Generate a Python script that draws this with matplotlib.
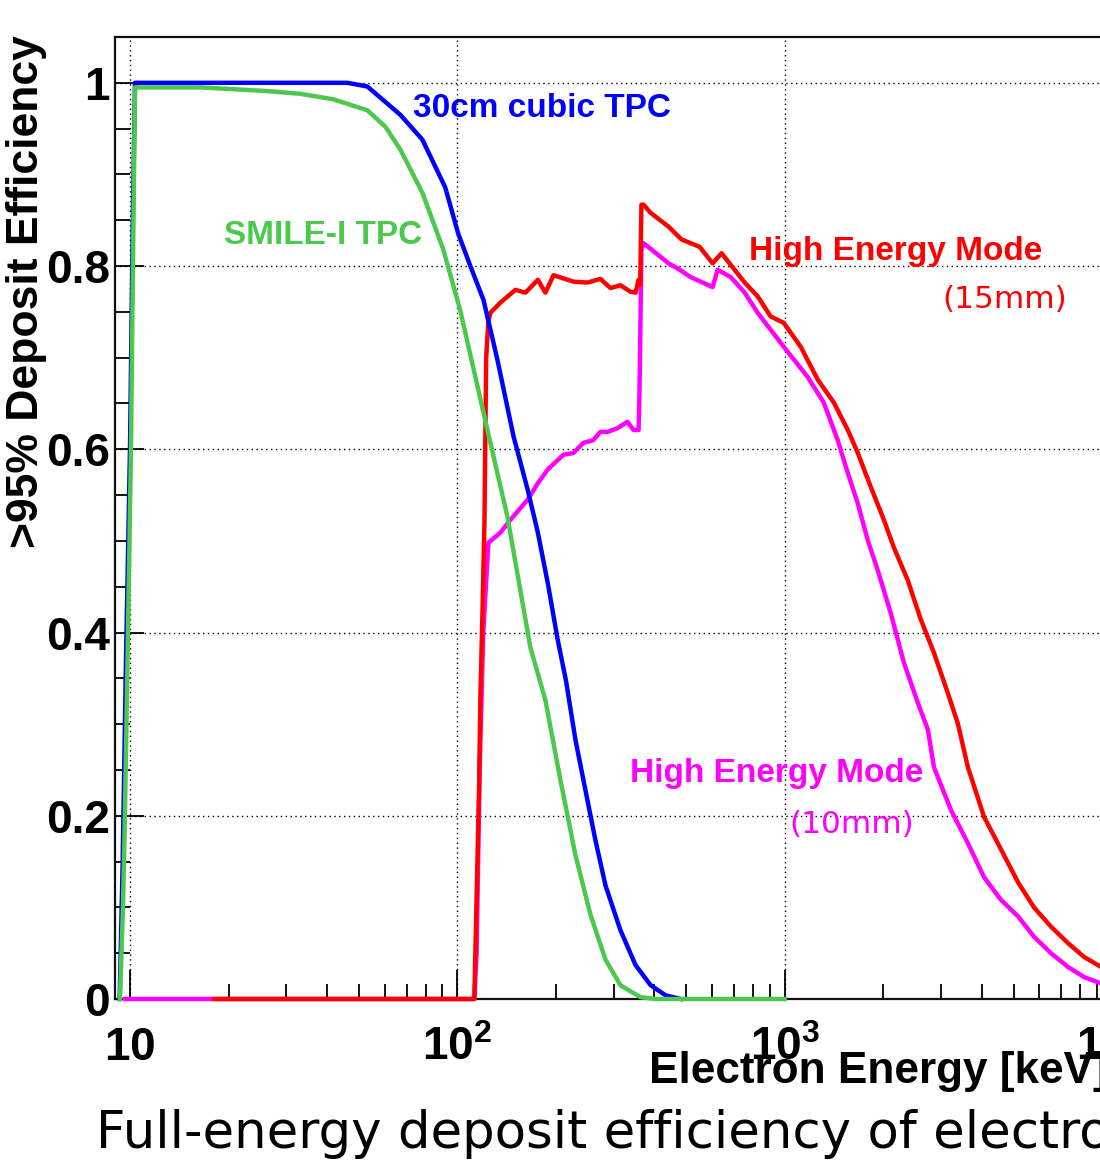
import matplotlib.pyplot as plt
from matplotlib.ticker import FixedLocator, MultipleLocator, NullFormatter

plt.rcParams['font.family'] = 'Liberation Sans'
plt.rcParams['mathtext.fontset'] = 'custom'
plt.rcParams['mathtext.rm'] = 'Liberation Sans:bold'
plt.rcParams['mathtext.it'] = 'Liberation Sans:bold'
plt.rcParams['mathtext.bf'] = 'Liberation Sans:bold'

# values: electron energy [keV] and >95% deposit efficiency
smile_e = [9.32, 9.52, 9.65, 9.86, 10.07, 10.21, 10.36, 16.4, 26.2, 33.1, 41.8, 53.1, 60.3,
           67.0, 78.2, 90.6, 102, 123.6, 142.3, 167.1, 185.8, 206.5, 229.5, 255.1, 283.5,
           315.0, 362.8, 403.3, 1000]
smile_eff = [0, 0.1, 0.2, 0.4, 0.6, 0.8, 0.995, 0.995, 0.991, 0.988, 0.982, 0.970, 0.952,
             0.927, 0.880, 0.818, 0.752, 0.621, 0.526, 0.384, 0.326, 0.239, 0.157, 0.092,
             0.043, 0.015, 0.002, 0, 0]

cubic_e = [9.3, 9.5, 9.7, 10.0, 10.2, 10.36, 46.1, 53.1, 67.0, 78.2, 91.8, 100.7, 109.6,
           120.2, 132.5, 148.5, 164.0, 176.2, 188.9, 202.6, 214.6, 229.5, 246.2, 263.9,
           283.5, 315.0, 350.3, 389.5, 432.8, 481.5]
cubic_eff = [0, 0.15, 0.35, 0.6, 0.85, 1.0, 1.0, 0.996, 0.965, 0.938, 0.886, 0.835, 0.800,
             0.763, 0.698, 0.614, 0.556, 0.509, 0.454, 0.392, 0.348, 0.283, 0.228, 0.174,
             0.124, 0.075, 0.037, 0.015, 0.004, 0]

he15_e = [18.1, 112.7, 113.5, 115.0, 116.5, 117.6, 119.3, 121.0, 122.5, 124.4, 126.2, 135.3,
          150.4, 161.5, 176.2, 185.8, 196.7, 226.3, 249.8, 273.6, 293.6, 315.0, 338.0, 350.3,
          357.8, 362.0, 365.0, 370.6, 389.5, 441.7, 484.1, 549.5, 602.3, 641.5, 754.6, 826.7,
          905.7, 993.0, 1119, 1262, 1413, 1559, 1672, 1832, 2009, 2154, 2377, 2606, 2857,
          3150, 3378, 3628, 4062, 4583, 5169, 5774, 6507, 7336, 8210, 9253, 10000]
he15_eff = [0, 0, 0.05, 0.14, 0.23, 0.33, 0.42, 0.52, 0.70, 0.74, 0.749, 0.760,
            0.774, 0.771, 0.785, 0.771, 0.790, 0.783, 0.782, 0.786, 0.776, 0.779, 0.772, 0.771,
            0.785, 0.78, 0.867, 0.867, 0.858, 0.843, 0.829, 0.821, 0.803, 0.814, 0.782, 0.767,
            0.745, 0.738, 0.712, 0.676, 0.651, 0.621, 0.596, 0.559, 0.523, 0.493, 0.457, 0.414,
            0.378, 0.334, 0.301, 0.253, 0.199, 0.163, 0.127, 0.100, 0.079, 0.061, 0.046, 0.035,
            0.028]

he10_e = [9.65, 112.7, 114.5, 117.0, 120.0, 124.4, 135.3, 145.3, 164.0, 176.2, 188.9, 210.8,
          226.3, 242.7, 260.2, 273.6, 287.5, 308.4, 330.9, 345.5, 357.8, 360.0, 362.0, 365.0,
          370.6, 441.7, 477.6, 515.8, 602.3, 623.9, 683.9, 754.6, 826.7, 993.0, 1175, 1316,
          1452, 1559, 1672, 1793, 1924, 2109, 2313, 2553, 2738, 2857, 3223, 3628, 4062, 4583,
          5169, 5774, 6507, 7336, 8210, 9253, 10000]
he10_eff = [0, 0, 0.05, 0.25, 0.40, 0.498, 0.509, 0.523, 0.545, 0.563, 0.578, 0.594,
            0.596, 0.607, 0.610, 0.619, 0.619, 0.623, 0.630, 0.621, 0.621, 0.66, 0.72, 0.818,
            0.825, 0.803, 0.796, 0.788, 0.777, 0.796, 0.788, 0.771, 0.749, 0.712, 0.679, 0.651,
            0.610, 0.574, 0.541, 0.501, 0.468, 0.421, 0.367, 0.323, 0.294, 0.253, 0.206, 0.170,
            0.133, 0.108, 0.090, 0.068, 0.050, 0.035, 0.024, 0.017, 0.014]

x_ticks = [10, 100, 1000, 10000]
x_tick_labels = ['$10$', '$10^{2}$', '$10^{3}$', '$10^{4}$']
y_ticks = [0, 0.2, 0.4, 0.6, 0.8, 1.0]
y_tick_labels = ['0', '0.2', '0.4', '0.6', '0.8', '1']

blue = '#0000ff'
green = '#4cc94c'
red = '#ff0000'
magenta = '#ff00ff'

fig = plt.figure(figsize=(11, 11.61), dpi=100)
ax = fig.add_axes([0.10455, 0.13953, 0.9064, 0.8286])

lw = 3.2
ax.plot(he10_e, he10_eff, color=magenta, lw=lw, zorder=3, clip_on=False)
ax.plot(he15_e, he15_eff, color=red, lw=lw, zorder=3.1, clip_on=False)
ax.plot(cubic_e, cubic_eff, color=blue, lw=lw, zorder=3.2, clip_on=False)
ax.plot(smile_e, smile_eff, color=green, lw=lw, zorder=3.3, clip_on=False)

ax.set_xscale('log')
ax.set_xlim(9.0, 1.0e4)
ax.set_ylim(0, 1.05)

ax.xaxis.set_major_locator(FixedLocator(x_ticks))
ax.set_xticklabels(x_tick_labels)
ax.xaxis.set_minor_locator(FixedLocator([m * 10 ** d for d in range(0, 4) for m in range(2, 10)]))
ax.xaxis.set_minor_formatter(NullFormatter())
ax.set_yticks(y_ticks)
ax.set_yticklabels(y_tick_labels)
ax.yaxis.set_minor_locator(MultipleLocator(0.05))

ax.tick_params(axis='x', which='major', direction='in', length=21, width=1.3,
               labelsize=33, pad=44)
ax.tick_params(axis='x', which='minor', direction='in', length=10.8, width=1.3)
ax.tick_params(axis='y', which='major', direction='in', length=21, width=1.3,
               labelsize=33, pad=3.6)
ax.tick_params(axis='y', which='minor', direction='in', length=10.8, width=1.3)
ax.tick_params(top=False, right=False)
for lab in ax.get_xticklabels():
    lab.set_va('baseline')
for lab in ax.get_yticklabels():
    lab.set_fontweight('bold')

ax.grid(True, which='major', color='black', linestyle=(0, (1, 2.5)), linewidth=1.0)
ax.set_axisbelow(True)
for side in ['left', 'top', 'bottom', 'right']:
    ax.spines[side].set_linewidth(1.6)
    ax.spines[side].set_color('#111111')

ax.set_xlabel('Electron Energy [keV]', fontsize=31.8, fontweight='bold', ha='right', va='baseline')
ax.xaxis.set_label_coords(0.996, -84 / 962)
ax.set_ylabel('>95% Deposit Efficiency', fontsize=32, fontweight='bold', ha='right', va='center')
ax.yaxis.set_label_coords(-89 / 997, 1.002)

bold = dict(fontsize=24, fontweight='bold')
ax.text(73.3, 0.963, '30cm cubic TPC', color=blue, ha='left', va='baseline', **bold)
ax.text(19.4, 0.824, 'SMILE-I TPC', color=green, ha='left', va='baseline', **bold)
ax.text(776, 0.807, 'High Energy Mode', color=red, ha='left', va='baseline', **bold)
ax.text(4710, 0.764, '(15mm)', color=red, ha='center', va='center', fontsize=22.5,
        family='DejaVu Sans')
ax.text(338, 0.237, 'High Energy Mode', color=magenta, ha='left', va='baseline', **bold)
ax.text(1603, 0.190, '(10mm)', color=magenta, ha='center', va='center', fontsize=22.5,
        family='DejaVu Sans')

fig.text(96 / 1100, 1 - 1148 / 1161, 'Full-energy deposit efficiency of electrons',
         ha='left', va='baseline', fontsize=37, family='DejaVu Sans')

fig.savefig('out.png', dpi=100)
